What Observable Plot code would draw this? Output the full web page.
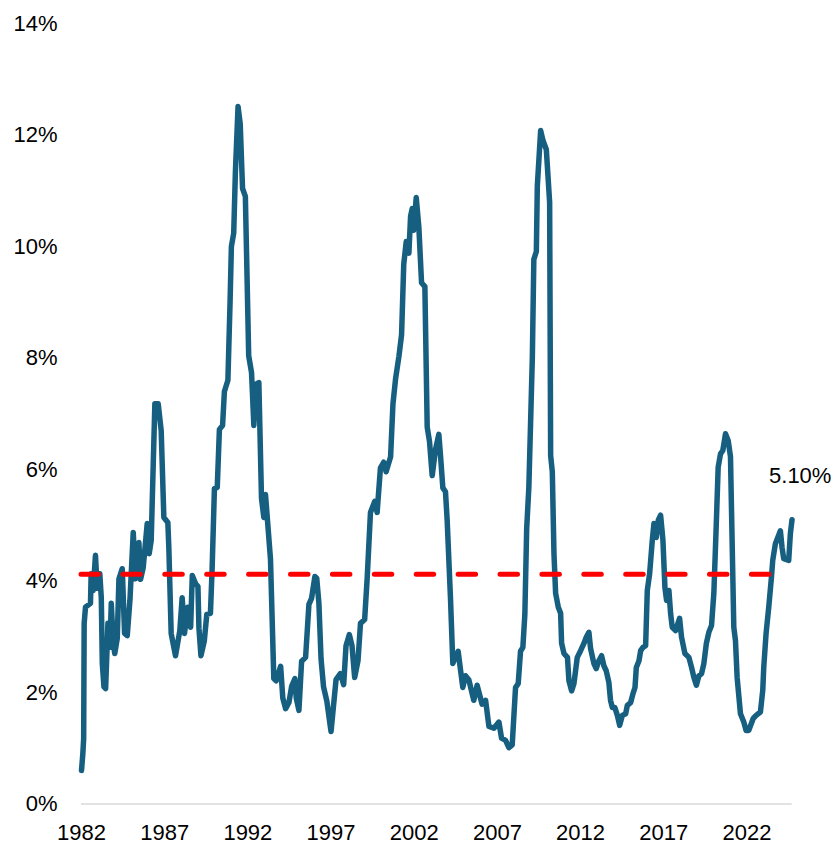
<!DOCTYPE html>
<html>
<head>
<meta charset="utf-8">
<script src="https://cdn.jsdelivr.net/npm/d3@7"></script>
<script src="https://cdn.jsdelivr.net/npm/@observablehq/plot@0.6"></script>
<style>
html, body { margin: 0; padding: 0; background: #fff; }
#chart svg { display: block; }
</style>
</head>
<body>
<div id="chart"></div>
<script>
const years = [
1982.00,1982.08,1982.13,1982.16,1982.24,1982.54,1982.58,1982.70,1982.84,1982.94,
1983.10,1983.19,1983.25,1983.35,1983.45,1983.59,1983.71,1983.79,1983.91,1984.00,
1984.15,1984.25,1984.45,1984.59,1984.75,1984.91,1985.11,1985.25,1985.45,1985.55,
1985.71,1985.95,1986.07,1986.19,1986.41,1986.61,1986.79,1986.95,1987.19,1987.25,
1987.39,1987.65,1987.91,1988.05,1988.19,1988.39,1988.56,1988.66,1988.86,1989.00,
1989.06,1989.18,1989.38,1989.53,1989.75,1989.85,1989.99,1990.16,1990.29,1990.48,
1990.59,1990.80,1990.93,1991.01,1991.15,1991.25,1991.41,1991.54,1991.68,1991.85,
1992.05,1992.22,1992.36,1992.50,1992.66,1992.82,1992.96,1993.06,1993.36,1993.56,
1993.70,1993.97,1994.10,1994.27,1994.47,1994.63,1994.83,1994.91,1995.07,1995.23,
1995.47,1995.67,1995.83,1996.03,1996.14,1996.27,1996.40,1996.55,1996.75,1997.00,
1997.30,1997.56,1997.76,1997.90,1998.10,1998.26,1998.42,1998.62,1998.77,1999.02,
1999.17,1999.37,1999.63,1999.77,1999.97,2000.17,2000.31,2000.58,2000.72,2000.88,
2001.08,2001.24,2001.37,2001.52,2001.68,2001.78,2001.88,2001.97,2002.12,2002.28,
2002.44,2002.64,2002.78,2002.92,2003.08,2003.28,2003.48,2003.58,2003.72,2003.88,
2003.98,2004.18,2004.32,2004.64,2004.78,2004.92,2005.08,2005.28,2005.58,2005.78,
2006.08,2006.29,2006.49,2006.79,2007.09,2007.25,2007.49,2007.69,2007.89,2008.09,
2008.25,2008.39,2008.53,2008.65,2008.76,2008.89,2009.10,2009.19,2009.34,2009.40,
2009.60,2009.74,2009.94,2010.14,2010.20,2010.30,2010.40,2010.50,2010.66,2010.80,
2010.86,2011.00,2011.21,2011.30,2011.46,2011.60,2011.80,2012.00,2012.20,2012.34,
2012.50,2012.60,2012.80,2012.94,2013.10,2013.26,2013.40,2013.54,2013.70,2013.80,
2013.91,2014.06,2014.21,2014.35,2014.51,2014.71,2014.81,2015.01,2015.15,2015.27,
2015.35,2015.51,2015.61,2015.75,2015.91,2016.01,2016.15,2016.31,2016.41,2016.55,
2016.67,2016.81,2016.95,2017.07,2017.17,2017.31,2017.41,2017.51,2017.71,2017.95,
2018.07,2018.27,2018.51,2018.67,2018.81,2018.96,2019.11,2019.27,2019.41,2019.56,
2019.71,2019.87,2020.01,2020.15,2020.27,2020.41,2020.55,2020.71,2020.87,2021.01,
2021.21,2021.31,2021.41,2021.61,2021.81,2021.95,2022.11,2022.37,2022.55,2022.81,
2022.95,2023.01,2023.15,2023.31,2023.47,2023.55,2023.71,2024.01,2024.11,2024.21,
2024.51,2024.61,2024.71
];
const rates = [
0.60,0.90,1.17,3.24,3.53,3.60,4.13,3.83,4.46,3.87,
4.13,3.70,2.52,2.10,2.07,3.24,2.81,3.60,2.88,2.70,
2.97,4.04,4.22,3.06,3.02,3.65,4.87,4.04,4.69,4.03,
4.24,5.03,4.49,4.73,7.18,7.18,6.70,5.14,5.05,4.60,
3.06,2.66,3.11,3.70,3.06,3.53,3.17,4.10,3.95,3.90,
3.15,2.66,2.92,3.40,3.42,4.20,5.66,5.68,6.72,6.79,
7.40,7.60,9.00,10.00,10.24,11.33,12.51,12.20,11.04,10.90,
8.04,7.74,6.79,7.53,7.56,5.48,5.14,5.55,4.39,2.25,
2.21,2.47,1.90,1.71,1.82,2.11,2.25,1.90,1.68,2.56,
2.63,3.58,3.69,4.08,4.05,3.60,2.60,2.10,1.84,1.30,
2.23,2.34,2.14,2.84,3.04,2.84,2.27,2.57,3.24,3.31,
4.04,5.23,5.43,5.23,6.03,6.13,5.96,6.23,7.17,7.63,
8.03,8.42,9.68,10.09,9.88,10.54,10.68,10.29,10.88,10.34,
9.35,9.28,6.76,6.50,5.89,6.36,6.63,6.25,5.67,5.60,
5.09,3.69,2.52,2.74,2.41,2.09,2.30,2.23,1.86,2.13,
1.79,1.86,1.39,1.36,1.47,1.18,1.14,1.01,1.06,2.09,
2.16,2.74,2.81,3.40,4.94,5.68,8.01,9.77,9.91,11.09,
12.08,11.90,11.74,10.79,6.25,5.96,4.49,3.78,3.53,3.42,
2.88,2.70,2.63,2.21,2.03,2.16,2.63,2.75,2.88,2.99,
3.08,2.79,2.52,2.43,2.57,2.66,2.48,2.39,2.18,1.86,
1.73,1.73,1.59,1.41,1.59,1.62,1.77,1.82,1.98,2.09,
2.45,2.57,2.75,2.81,2.84,3.83,4.13,4.73,5.03,4.78,
5.09,5.18,4.73,3.88,3.65,3.83,3.42,3.17,3.11,3.33,
2.99,2.70,2.63,2.45,2.27,2.13,2.30,2.34,2.52,2.88,
3.08,3.20,3.78,4.96,6.04,6.28,6.34,6.64,6.52,6.23,
3.17,2.93,2.27,1.62,1.47,1.32,1.32,1.53,1.59,1.65,
2.04,2.45,3.06,3.53,4.06,4.37,4.67,4.90,4.60,4.40,
4.37,4.85,5.10
];
const averageRate = 4.12;
const averageSpan = [1982.0, 2024.0];
const xTicks = [1982, 1987, 1992, 1997, 2002, 2007, 2012, 2017, 2022];
const yTicks = [0, 2, 4, 6, 8, 10, 12, 14];
const endLabel = "5.10%";

const series = years.map((t, i) => ({t, v: rates[i]}));
const avgRow = [{y: averageRate, x1: averageSpan[0], x2: averageSpan[1]}];
const last = series[series.length - 1];

const chart = Plot.plot({
  width: 833,
  height: 845,
  marginTop: 23,
  marginBottom: 41.5,
  marginLeft: 81,
  marginRight: 41.3,
  style: {fontFamily: "'Liberation Sans', Arial, sans-serif", fontSize: "22px", color: "#000", background: "#fff"},
  x: {domain: [1982, 2024.72], ticks: xTicks, tickFormat: d => String(d), tickSize: 0, tickPadding: 20, label: null},
  y: {domain: [0, 14], ticks: yTicks, tickFormat: d => d + "%", tickSize: 0, tickPadding: 24, label: null},
  marks: [
    Plot.ruleY([0], {stroke: "#d9d9d9", strokeWidth: 1.5}),
    Plot.line(series, {x: "t", y: "v", stroke: "#175f80", strokeWidth: 5.5, strokeLinejoin: "round", strokeLinecap: "round"}),
    Plot.ruleY(avgRow, {y: "y", x1: "x1", x2: "x2", stroke: "#ff0000", strokeWidth: 5, strokeDasharray: "17.5,24.4", strokeLinecap: "round"}),
    Plot.text([last], {x: "t", y: "v", text: () => endLabel, textAnchor: "start", dx: -23, dy: -44, fill: "#000", fontSize: 22})
  ]
});
document.getElementById("chart").appendChild(chart);
</script>
</body>
</html>
